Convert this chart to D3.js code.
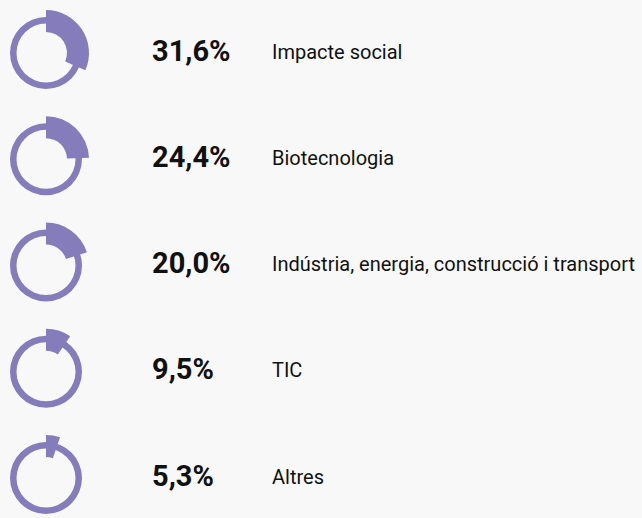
<!DOCTYPE html>
<html>
<head>
<meta charset="utf-8">
<script src="https://cdn.jsdelivr.net/npm/d3@7"></script>
<style>
  body { margin: 0; background: #f8f8f8; }
  svg { display: block; }
</style>
</head>
<body>
<div class="canvas"></div>
<script>
// data
const categories = ['Impacte social', 'Biotecnologia', 'Indústria, energia, construcció i transport', 'TIC', 'Altres'];
const values = [31.6, 24.4, 20.0, 9.5, 5.3];

const width = 642, height = 518;
const color = '#857cbc';

const svg = d3.select('.canvas')
  .append('svg')
    .attr('width', width)
    .attr('height', height);

const rows = categories.map((c, i) => ({ name: c, value: values[i] }));

// one row per category, ring centres spaced down the page
const y = d3.scalePoint()
  .domain(categories)
  .range([53, 478]);

// share of the whole circle
const angle = d3.scaleLinear()
  .domain([0, 100])
  .range([0, 2 * Math.PI]);

const ringArc = d3.arc()
  .innerRadius(29.5)
  .outerRadius(36)
  .startAngle(0)
  .endAngle(2 * Math.PI);

const valueArc = d3.arc()
  .innerRadius(21)
  .outerRadius(43)
  .startAngle(0)
  .endAngle(d => angle(d.value));

const fmt = v => d3.format('.1f')(v).replace('.', ',') + '%';

const row = svg.selectAll('g.row')
  .data(rows)
  .enter()
  .append('g')
    .attr('class', 'row')
    .attr('transform', d => `translate(0, ${y(d.name)})`);

row.append('path')
  .attr('transform', 'translate(46, 0)')
  .attr('d', ringArc)
  .attr('fill', color);

row.append('path')
  .attr('transform', 'translate(46, 0)')
  .attr('d', valueArc)
  .attr('fill', color);

row.append('text')
  .attr('x', 152)
  .attr('y', 7.5)
  .attr('font-family', 'Roboto, sans-serif')
  .attr('font-weight', 'bold')
  .attr('font-size', 29)
  .attr('fill', '#111')
  .text(d => fmt(d.value));

row.append('text')
  .attr('x', 272)
  .attr('y', 5.5)
  .attr('font-family', 'Roboto, sans-serif')
  .attr('font-size', 20)
  .attr('fill', '#111')
  .text(d => d.name);
</script>
</body>
</html>
